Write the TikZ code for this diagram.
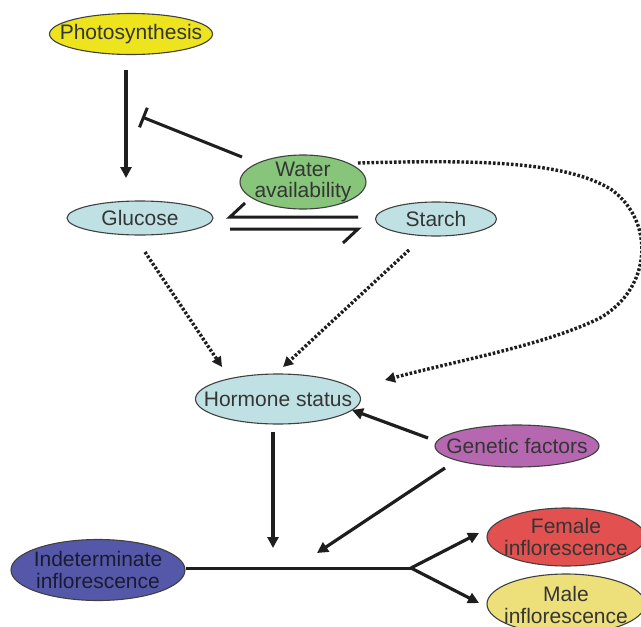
\documentclass[tikz,border=0pt]{standalone}
\usepackage{fontspec}
\setmainfont{Liberation Sans}
\usetikzlibrary{shapes.geometric,arrows.meta}
\definecolor{cyel}{HTML}{EDE41E}
\definecolor{cgreen}{HTML}{86C57A}
\definecolor{cblue}{HTML}{BFE1E4}
\definecolor{cpurple}{HTML}{B567B0}
\definecolor{cnavy}{HTML}{5558A8}
\definecolor{cred}{HTML}{E2504F}
\definecolor{cpale}{HTML}{EDE07A}
\definecolor{ctext}{HTML}{353535}
\definecolor{cline}{HTML}{1E1E1E}
\tikzset{
  bub/.style={ellipse, draw=cline!85, line width=1.1pt, inner sep=0pt},
  lbl/.style={inner sep=0pt, align=center, text=ctext, font=\fontsize{21}{21.5}\selectfont},
  solidarr/.style={draw=cline, line width=3.2pt, -{Triangle[length=11pt,width=11pt]}},
  dotarr/.style={draw=cline, line width=3.4pt, dash pattern=on 2.6pt off 1.9pt,
    -{Triangle[length=10pt,width=10pt]}},
  plain/.style={draw=cline, line width=3pt},
}
\begin{document}
\begin{tikzpicture}[x=1pt,y=-1pt]
\useasboundingbox (0,0) rectangle (641,627);
\fill[white] (0,0) rectangle (641,627);
\begin{scope}
\clip (0,0) rectangle (641,627);
% nodes
\node[bub, fill=cyel, minimum width=163pt, minimum height=41pt] (photo) at (131,34) {};
\node[lbl] (photoT) at (photo) {Photosynthesis};
\node[bub, fill=cgreen, minimum width=126pt, minimum height=54pt] (water) at (303,182) {};
\node[lbl] (waterT) at (water) {Water\\availability};
\node[bub, fill=cblue, minimum width=146pt, minimum height=34pt] (glucose) at (140,218) {};
\node[lbl] (glucoseT) at (glucose) {Glucose};
\node[bub, fill=cblue, minimum width=121pt, minimum height=34pt] (starch) at (436,219) {};
\node[lbl] (starchT) at (starch) {Starch};
\node[bub, fill=cblue, minimum width=165pt, minimum height=50pt] (hormone) at (278,399) {};
\node[lbl] (hormoneT) at (hormone) {Hormone status};
\node[bub, fill=cpurple, minimum width=164pt, minimum height=42pt] (genetic) at (517,446) {};
\node[lbl] (geneticT) at (genetic) {Genetic factors};
\node[bub, fill=cnavy, minimum width=174pt, minimum height=61pt] (indet) at (98,570) {};
\node[lbl, text=black!70!cnavy] (indetT) at (indet) {Indeterminate\\inflorescence};
\node[bub, fill=cred, minimum width=158pt, minimum height=58pt] (female) at (566,537) {};
\node[lbl] (femaleT) at (female) {Female\\inflorescence};
\node[bub, fill=cpale, minimum width=158pt, minimum height=60pt] (male) at (566,604) {};
\node[lbl] (maleT) at ([yshift=-1pt]male) {Male\\inflorescence};

% coordinates
\coordinate (p1) at (126,70);
\coordinate (p2) at (126,178);
\coordinate (w1) at (242,157);
\coordinate (w2) at (142,117);
\coordinate (hu1) at (358,217);
\coordinate (hu2) at (230,217);
\coordinate (hu3) at (245,203);
\coordinate (hl1) at (230,229);
\coordinate (hl2) at (358,229);
\coordinate (hl3) at (343,243);
\coordinate (g1) at (145,252);
\coordinate (g2) at (222,367);
\coordinate (s1) at (409,250);
\coordinate (s2) at (283,367);
\coordinate (wc1) at (358,163);
\coordinate (wc2) at (385,380);
\coordinate (h1) at (273,432);
\coordinate (h2) at (273,548);
\coordinate (ge1) at (428,438);
\coordinate (ge2) at (352,410);
\coordinate (gj1) at (445,468);
\coordinate (gj2) at (317,553);
\coordinate (m1) at (186,568);
\coordinate (j) at (411,568);
\coordinate (f2) at (479,533);
\coordinate (ma2) at (479,603);

% connectors
\draw[solidarr, line width=4pt] (p1) -- (p2);
\draw[plain, -{Bar[width=21pt,line width=3pt]}] (w1) -- (w2);
\draw[plain, line join=miter] (hu1) -- (hu2) -- (hu3);
\draw[plain, line join=miter] (hl1) -- (hl2) -- (hl3);
\draw[dotarr] (g1) -- (g2);
\draw[dotarr] (s1) -- (s2);
\draw[dotarr] (wc1) .. controls (470,160) and (565,160) .. (612,190)
  .. controls (655,222) and (652,288) .. (600,318)
  .. controls (545,345) and (460,360) .. (wc2);
\draw[solidarr, line width=3.6pt] (h1) -- (h2);
\draw[solidarr] (ge1) -- (ge2);
\draw[solidarr] (gj1) -- (gj2);
\draw[plain] (m1) -- (j);
\draw[solidarr] (j) -- (f2);
\draw[solidarr] (j) -- (ma2);
\end{scope}
\end{tikzpicture}
\end{document}
